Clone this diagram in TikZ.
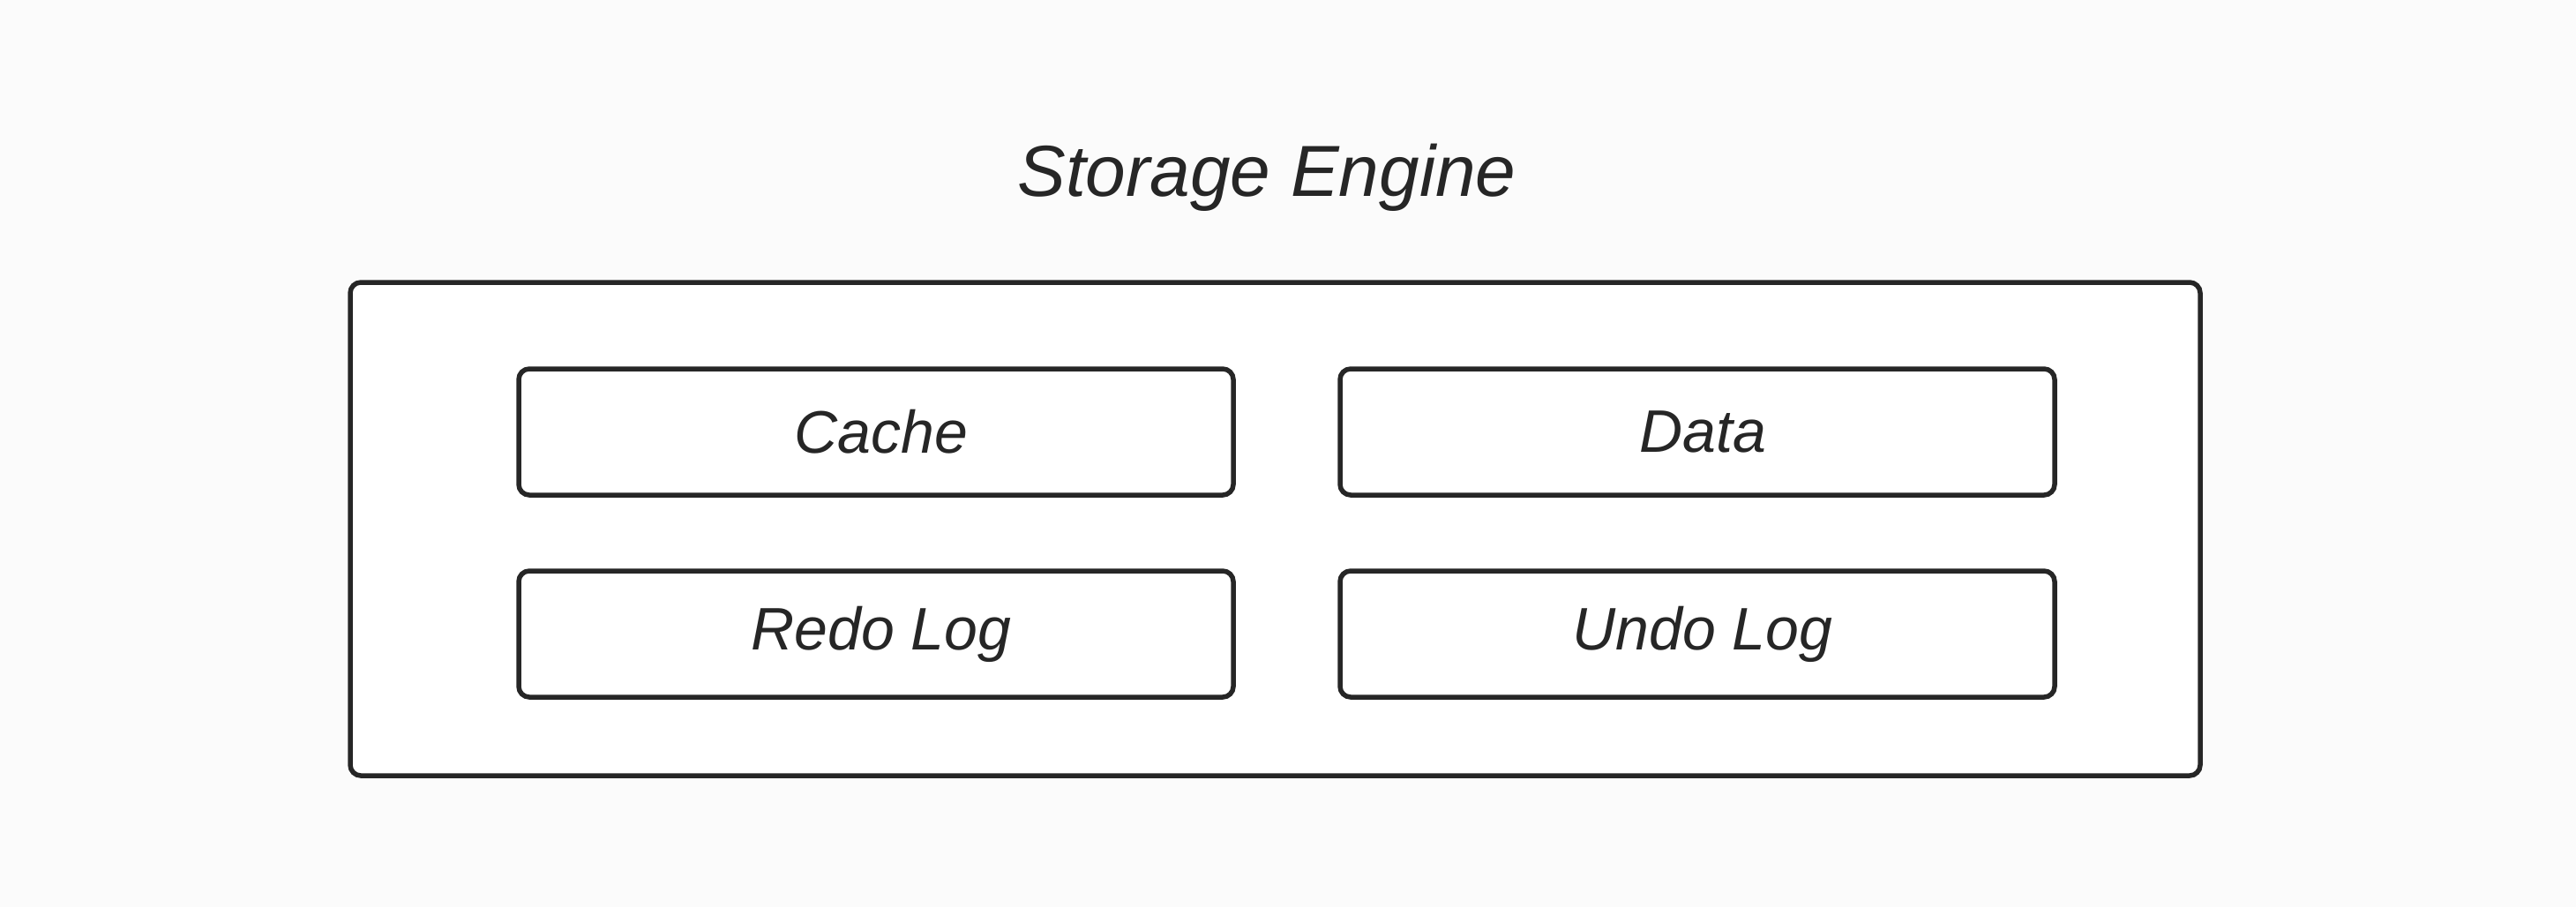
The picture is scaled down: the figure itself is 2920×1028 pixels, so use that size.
\documentclass[tikz,border=0pt]{standalone}
\usepackage{fontspec}
\setmainfont{Liberation Sans}
\definecolor{bgc}{HTML}{FBFBFB}
\definecolor{linec}{HTML}{262626}
\begin{document}
\begin{tikzpicture}[x=1pt,y=-1pt,
  outerbox/.style={draw=linec,fill=white,line width=5.5pt,rounded corners=12pt,minimum width=2097pt,minimum height=559pt,inner sep=0pt},
  partbox/.style={draw=linec,fill=white,line width=5.5pt,rounded corners=12pt,minimum width=810pt,minimum height=143pt,inner sep=0pt,font=\fontsize{68}{74}\selectfont\itshape,text=linec,execute at begin node={\hspace*{12pt}}},
  titletext/.style={font=\fontsize{82}{90}\selectfont\itshape,text=linec,inner sep=0pt}]
\fill[bgc] (0,0) rectangle (2920,1028);
\useasboundingbox (0,0) rectangle (2920,1028);
\node[titletext] (title) at (1436,201) {Storage Engine};
\node[outerbox] (engine) at (1445.5,599.5) {};
\node[partbox] (cache) at (993,489.5) {Cache};
\node[partbox] (data) at (1924,489.5) {Data};
\node[partbox] (redo) at (993,718.5) {Redo Log};
\node[partbox] (undo) at (1924,718.5) {Undo Log};
\end{tikzpicture}
\end{document}
